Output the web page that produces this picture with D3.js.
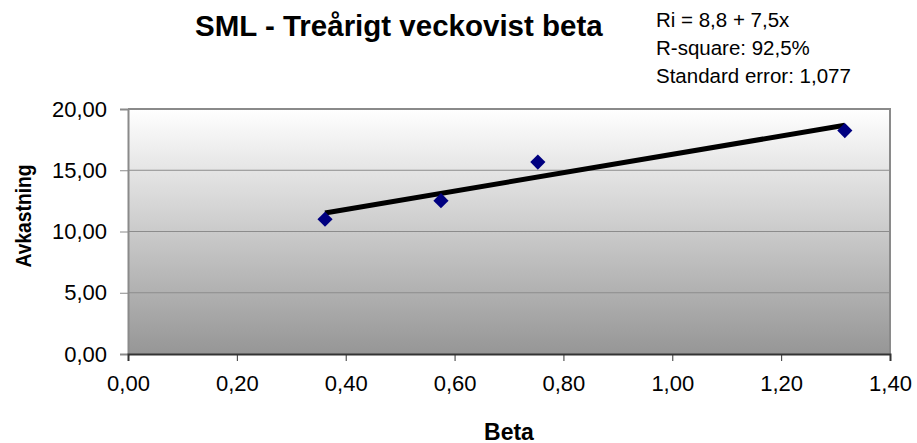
<!DOCTYPE html>
<html>
<head>
<meta charset="utf-8">
<script src="https://cdn.jsdelivr.net/npm/d3@7"></script>
<style>
  body { margin: 0; background: #fff; }
  svg { display: block; font-family: "Liberation Sans", Arial, sans-serif; }
</style>
</head>
<body>
<svg id="chart"></svg>
<script>
var width = 917;
var height = 443;
var margin = { top: 109, right: 27, left: 128, bottom: 89 };
var innerWidth = width - margin.left - margin.right;
var innerHeight = height - margin.top - margin.bottom;

// data
var betas = [0.362, 0.575, 0.753, 1.317];
var returns = [11.0, 12.52, 15.67, 18.24];
var xTicks = [0, 0.2, 0.4, 0.6, 0.8, 1.0, 1.2, 1.4];
var yTicks = [0, 5, 10, 15, 20];
var intercept = 8.8;
var slope = 7.5;
var statLines = ["Ri = 8,8 + 7,5x", "R-square: 92,5%", "Standard error: 1,077"];

var fmt = function(d) { return d3.format(".2f")(d).replace(".", ","); };

var x = d3.scaleLinear().domain([0, 1.4]).range([margin.left, width - margin.right]);
var y = d3.scaleLinear().domain([0, 20]).range([height - margin.bottom, margin.top]);

var svg = d3.select("#chart")
  .attr("width", width)
  .attr("height", height);

var grad = svg.append("defs").append("linearGradient")
  .attr("id", "bg")
  .attr("x1", 0).attr("y1", 0).attr("x2", 0).attr("y2", 1);
grad.append("stop").attr("offset", "0%").attr("stop-color", "#ffffff");
grad.append("stop").attr("offset", "100%").attr("stop-color", "#969696");

svg.append("rect")
  .attr("x", margin.left)
  .attr("y", margin.top)
  .attr("width", innerWidth)
  .attr("height", innerHeight)
  .attr("fill", "url(#bg)");

// gridlines
svg.append("g")
  .selectAll("line")
  .data(yTicks.filter(function(d) { return d > 0 && d < 20; }))
  .enter()
    .append("line")
      .attr("x1", margin.left)
      .attr("x2", width - margin.right)
      .attr("y1", function(d) { return y(d); })
      .attr("y2", function(d) { return y(d); })
      .attr("stroke", "#8c8c8c")
      .attr("stroke-width", 1);

// plot border (top, right)
svg.append("path")
  .attr("d", "M" + margin.left + "," + y(20) + "H" + x(1.4) + "V" + y(0))
  .attr("fill", "none")
  .attr("stroke", "#8a8a8a")
  .attr("stroke-width", 2);

// axes
var yAxis = svg.append("g")
  .attr("transform", "translate(" + margin.left + ",0)")
  .call(d3.axisLeft(y).tickValues(yTicks).tickFormat(fmt).tickSize(8).tickPadding(13));
yAxis.attr("font-family", null).attr("font-size", 22);
yAxis.select(".domain").attr("stroke", "#8a8a8a").attr("stroke-width", 2);
yAxis.selectAll(".tick line").attr("stroke", "#8a8a8a");
yAxis.selectAll(".tick text").attr("fill", "#000");

var xAxis = svg.append("g")
  .attr("transform", "translate(0," + y(0) + ")")
  .call(d3.axisBottom(x).tickValues(xTicks).tickFormat(fmt).tickSize(7).tickPadding(14));
xAxis.attr("font-family", null).attr("font-size", 22);
xAxis.select(".domain").attr("stroke", "#333").attr("stroke-width", 2);
xAxis.selectAll(".tick line").attr("stroke", "#333");
xAxis.selectAll(".tick text").attr("fill", "#000");

// trend line from regression equation
var x0 = d3.min(betas), x1 = d3.max(betas);
svg.append("line")
  .attr("x1", x(x0))
  .attr("y1", y(intercept + slope * x0))
  .attr("x2", x(x1))
  .attr("y2", y(intercept + slope * x1))
  .attr("stroke", "#000")
  .attr("stroke-width", 5);

// points
svg.selectAll("path.pt")
  .data(betas)
  .enter()
    .append("path")
      .attr("class", "pt")
      .attr("d", d3.symbol().type(d3.symbolSquare).size(115))
      .attr("transform", function(d, i) {
        return "translate(" + x(d) + "," + y(returns[i]) + ") rotate(45)";
      })
      .attr("fill", "#000080");

// labels
svg.append("text")
  .attr("x", 195)
  .attr("y", 36)
  .style("font-size", "29.5px")
  .style("font-weight", "bold")
  .text("SML - Treårigt veckovist beta");

svg.append("g")
  .selectAll("text")
  .data(statLines)
  .enter()
    .append("text")
      .attr("x", 656)
      .attr("y", function(d, i) { return 27 + i * 28; })
      .style("font-size", "20.5px")
      .text(function(d) { return d; });

svg.append("text")
  .attr("x", (margin.left + width - margin.right) / 2)
  .attr("y", 440)
  .style("text-anchor", "middle")
  .style("font-size", "23px")
  .style("font-weight", "bold")
  .text("Beta");

svg.append("text")
  .attr("transform", "rotate(-90)")
  .attr("x", -216)
  .attr("y", 31)
  .style("text-anchor", "middle")
  .style("font-size", "22px")
  .style("font-weight", "bold")
  .attr("textLength", 103)
  .attr("lengthAdjust", "spacingAndGlyphs")
  .text("Avkastning");
</script>
</body>
</html>
